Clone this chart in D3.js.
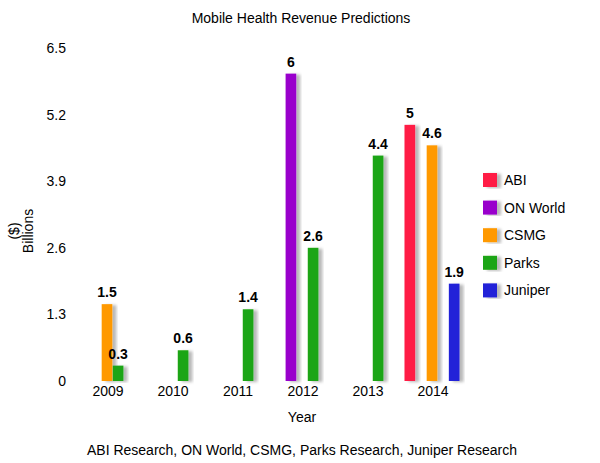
<!DOCTYPE html>
<html>
<head>
<meta charset="utf-8">
<script src="https://cdn.jsdelivr.net/npm/d3@7"></script>
<style>
  html, body { margin: 0; padding: 0; background: #fff; }
  svg { display: block; font-family: Arial, "Liberation Sans", sans-serif; }
</style>
</head>
<body>
<svg id="chart" width="600" height="463"></svg>
<script>
const years = ["2009", "2010", "2011", "2012", "2013", "2014"];
const seriesNames = ["ABI", "ON World", "CSMG", "Parks", "Juniper"];
const seriesColors = ["#ff1a45", "#9900cc", "#ff9900", "#1fa514", "#2020d8"];
// values per series, aligned with years (null = no bar)
const abiValues     = [null, null, null, null, null, 5];
const onWorldValues = [null, null, null, 6, null, null];
const csmgValues    = [1.5, null, null, null, null, 4.6];
const parksValues   = [0.3, 0.6, 1.4, 2.6, 4.4, null];
const juniperValues = [null, null, null, null, null, 1.9];
const yTicks = [0, 1.3, 2.6, 3.9, 5.2, 6.5];

const seriesValues = [abiValues, onWorldValues, csmgValues, parksValues, juniperValues];
const FS = 14;

const svg = d3.select("#chart");
const defs = svg.append("defs");
const f = defs.append("filter").attr("id", "shadow")
  .attr("x", "-50%").attr("y", "-10%").attr("width", "200%").attr("height", "120%");
f.append("feDropShadow").attr("dx", 4).attr("dy", 1).attr("stdDeviation", 1.8)
  .attr("flood-color", "#000").attr("flood-opacity", 0.28);

const x0 = d3.scaleBand().domain(years).range([75.5, 465.5]).padding(0);
const x1 = d3.scaleBand().domain(seriesNames).range([4, 59]).paddingInner(0.04);
const y = d3.scaleLinear().domain([0, 6.5]).range([381, 48]);
const color = d3.scaleOrdinal().domain(seriesNames).range(seriesColors);

// title
svg.append("text").attr("x", 301).attr("y", 23).attr("text-anchor", "middle")
  .attr("font-size", FS).attr("fill", "#000").text("Mobile Health Revenue Predictions");

// y axis (labels only)
const yAxis = d3.axisLeft(y).tickValues(yTicks).tickSize(0).tickPadding(0)
  .tickFormat(d => String(d));
const gy = svg.append("g").attr("transform", "translate(66,0)").call(yAxis);
gy.select(".domain").remove();
gy.selectAll("text").attr("font-size", FS).attr("fill", "#000")
  .attr("font-family", "Arial, 'Liberation Sans', sans-serif");

// y title
const yt = svg.append("text").attr("transform", "translate(0,231) rotate(-90)")
  .attr("text-anchor", "middle").attr("font-size", FS).attr("fill", "#000");
yt.append("tspan").attr("x", 0).attr("y", 19).text("($)");
yt.append("tspan").attr("x", 0).attr("y", 33).text("Billions");

// x axis (labels only)
const xAxis = d3.axisBottom(x0).tickSize(0).tickPadding(0);
const gx = svg.append("g").attr("transform", "translate(0,386)").call(xAxis);
gx.select(".domain").remove();
gx.selectAll("text").attr("font-size", FS).attr("fill", "#000")
  .attr("font-family", "Arial, 'Liberation Sans', sans-serif");

svg.append("text").attr("x", 302).attr("y", 422).attr("text-anchor", "middle")
  .attr("font-size", FS).attr("fill", "#000").text("Year");

svg.append("text").attr("x", 302).attr("y", 455).attr("text-anchor", "middle")
  .attr("font-size", FS).attr("fill", "#000")
  .text("ABI Research, ON World, CSMG, Parks Research, Juniper Research");

// bars
const barData = [];
seriesNames.forEach((s, si) => {
  years.forEach((yr, yi) => {
    const v = seriesValues[si][yi];
    if (v !== null) barData.push({ series: s, year: yr, value: v });
  });
});

svg.append("g").selectAll("rect").data(barData).join("rect")
  .attr("x", d => x0(d.year) + x1(d.series))
  .attr("y", d => y(d.value))
  .attr("width", x1.bandwidth())
  .attr("height", d => y(0) - y(d.value))
  .attr("fill", d => color(d.series))
  .attr("filter", "url(#shadow)");

svg.append("g").selectAll("text").data(barData).join("text")
  .attr("x", d => x0(d.year) + x1(d.series) + x1.bandwidth() / 2)
  .attr("y", d => y(d.value) - 7)
  .attr("text-anchor", "middle").attr("font-size", FS).attr("font-weight", "bold")
  .attr("fill", "#000").text(d => String(d.value));

// legend
const legend = svg.append("g").selectAll("g").data(seriesNames).join("g")
  .attr("transform", (d, i) => `translate(483,${173 + i * 27.6})`);
legend.append("rect").attr("width", 14).attr("height", 14)
  .attr("fill", d => color(d)).attr("filter", "url(#shadow)");
legend.append("text").attr("x", 21).attr("y", 12).attr("font-size", FS)
  .attr("fill", "#000").text(d => d);
</script>
</body>
</html>
